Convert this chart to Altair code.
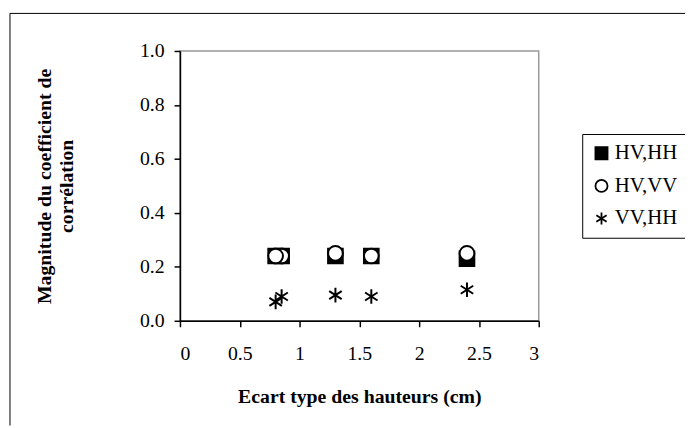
import altair as alt
import pandas as pd

# ---- data ----
series_names = ["HV,HH", "HV,VV", "VV,HH"]
hvhh_x = [0.8, 0.85, 1.3, 1.6, 2.4]
hvhh_y = [0.24, 0.24, 0.24, 0.24, 0.23]
hvvv_x = [0.85, 0.8, 1.3, 1.6, 2.4]
hvvv_y = [0.24, 0.24, 0.25, 0.24, 0.25]
vvhh_x = [0.8, 0.85, 1.3, 1.6, 2.4]
vvhh_y = [0.07, 0.09, 0.095, 0.09, 0.115]
x_ticks = [0, 0.5, 1, 1.5, 2, 2.5, 3]
y_ticks = [0.0, 0.2, 0.4, 0.6, 0.8, 1.0]

rows = []
for name, xs, ys in zip(series_names, [hvhh_x, hvvv_x, vvhh_x], [hvhh_y, hvvv_y, vvhh_y]):
    for xv, yv in zip(xs, ys):
        rows.append({"serie": name, "x": xv, "y": yv})
df = pd.DataFrame(rows)

FONT = "Liberation Serif"
star_path = "M0,-1L0,1M-0.85,-0.55L0.85,0.55M-0.85,0.55L0.85,-0.55"

legend = alt.Legend(
    title=None, orient="none", legendX=407, legendY=84,
    strokeColor="black", fillColor="white", padding=9, rowPadding=11,
    labelFont=FONT, labelFontSize=21, labelColor="black", labelOffset=3,
    symbolSize=150, symbolStrokeWidth=1.8,
    cornerRadius=0,
)

points = alt.Chart(df).mark_point(
    filled=True, strokeWidth=2, size=220, opacity=1
).encode(
    x=alt.X("x:Q", scale=alt.Scale(domain=[0, 3], nice=False),
            axis=alt.Axis(values=x_ticks, title="Ecart type des hauteurs (cm)",
                          format="~g", labelPadding=17, titlePadding=24)),
    y=alt.Y("y:Q", scale=alt.Scale(domain=[0, 1], nice=False),
            axis=alt.Axis(values=y_ticks, format=".1f",
                          title=["Magnitude du coefficient de", "corrélation"],
                          labelPadding=10, titlePadding=64)),
    shape=alt.Shape("serie:N", scale=alt.Scale(domain=series_names,
                    range=["square", "circle", star_path]), legend=legend),
    fill=alt.Fill("serie:N", scale=alt.Scale(domain=series_names,
                  range=["black", "white", "black"]), legend=legend),
    stroke=alt.Stroke("serie:N", scale=alt.Scale(domain=series_names,
                      range=["black", "black", "black"]), legend=legend),
)

frame_df = pd.DataFrame({"k": [0]})
frame_v = alt.Chart(frame_df).mark_rule(color="black", strokeWidth=1).encode(
    x=alt.value(-172), y=alt.value(-38), y2=alt.value(379)
)
frame_h = alt.Chart(frame_df).mark_rule(color="black", strokeWidth=1).encode(
    x=alt.value(-172), x2=alt.value(511), y=alt.value(-38)
)

chart = alt.layer(frame_v, frame_h, points).properties(
    width=363, height=273,
    autosize=alt.AutoSizeParams(type="none"),
    padding={"left": 174, "top": 41, "right": 148, "bottom": 106},
    background="white",
).configure(
    font=FONT
).configure_view(
    stroke="#999999", strokeWidth=1.5
).configure_axis(
    grid=False, domainColor="black", domainWidth=1.5, tickColor="black",
    tickSize=6, tickWidth=1.5, labelFont=FONT, labelFontSize=20,
    labelColor="black", titleFont=FONT, titleFontSize=20,
    titleFontWeight="bold", titleColor="black",
)

chart.save("out.html", embed_options={"renderer": "svg", "actions": False})
